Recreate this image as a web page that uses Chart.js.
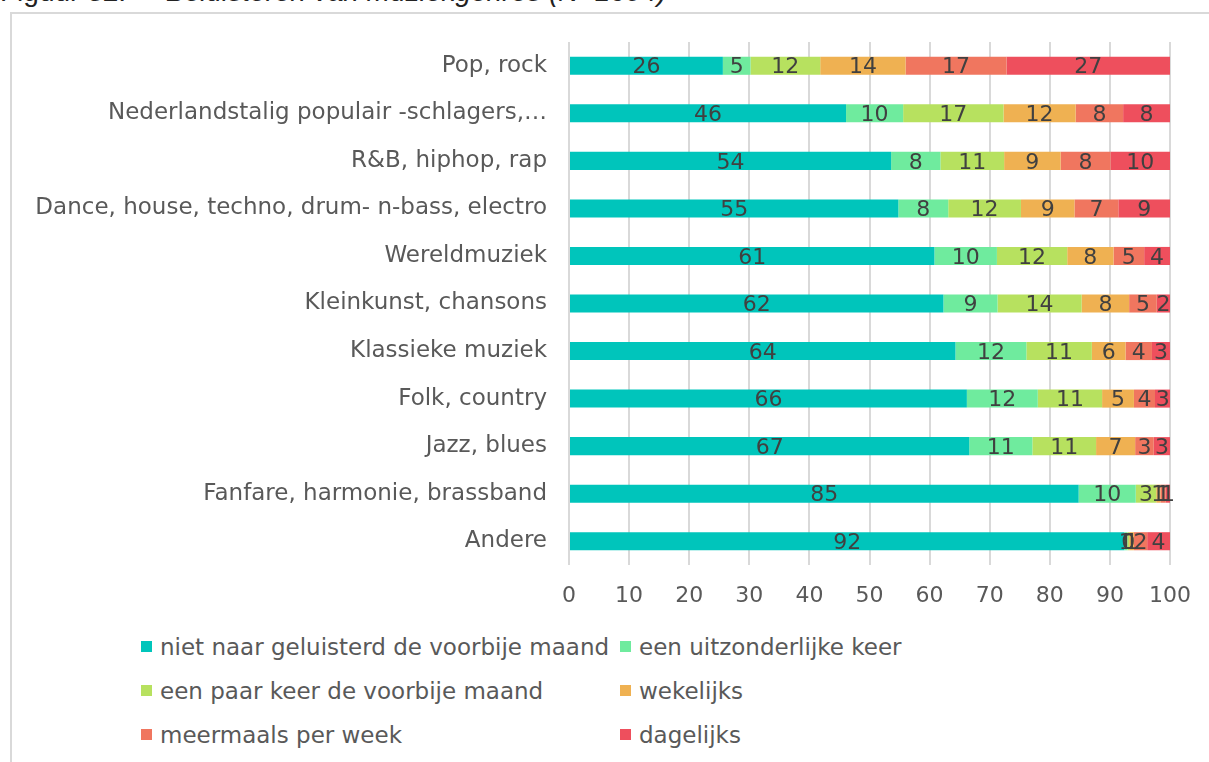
<!DOCTYPE html>
<html>
<head>
<meta charset="utf-8">
<script src="https://cdn.jsdelivr.net/npm/chart.js@4/dist/chart.umd.min.js"></script>
<style>
  body { margin:0; width:1209px; height:762px; overflow:hidden; background:#fff; font-family:"DejaVu Sans", sans-serif; }
  #title { position:absolute; left:0px; top:-24px; font-family:"Liberation Sans", Arial, sans-serif; font-size:28px; color:#222; white-space:nowrap; }
  #title i { margin-left:40px; }
  #frame { position:absolute; left:10px; top:12px; width:1220px; height:800px; border:2px solid #d9d9d9; box-sizing:border-box; }
  #wrap { position:absolute; left:0; top:0; width:1209px; height:620px; }
  #legend { position:absolute; left:141px; top:632px; display:grid; grid-template-columns:479px 400px; row-gap:15px; font-size:23px; color:#595959; }
  #legend div { display:flex; align-items:center; height:29px; white-space:nowrap; }
  #legend span { display:inline-block; width:11px; height:11px; margin-right:8px; }
</style>
</head>
<body>
<div id="title">Figuur 32:<i>Beluisteren van muziekgenres (N=1094)</i></div>
<div id="frame"></div>
<div id="wrap"><canvas id="chart"></canvas></div>
<div id="legend"></div>
<script>
// Categories (top to bottom)
const genres = [
  'Pop, rock',
  'Nederlandstalig populair -schlagers,…',
  'R&B, hiphop, rap',
  'Dance, house, techno, drum- n-bass, electro',
  'Wereldmuziek',
  'Kleinkunst, chansons',
  'Klassieke muziek',
  'Folk, country',
  'Jazz, blues',
  'Fanfare, harmonie, brassband',
  'Andere'
];

// Series (percent)
const nietGeluisterd = [25.6, 46.1, 53.6, 54.8, 60.8, 62.3, 64.3, 66.2, 66.6, 84.8, 92.4];
const uitzonderlijk  = [4.6, 9.5, 8.2, 8.3, 10.4, 9.0, 11.8, 11.8, 10.5, 9.5, 0.5];
const paarKeer       = [11.6, 16.7, 10.6, 12.1, 11.7, 14.0, 10.9, 10.7, 10.6, 3.4, 0.3];
const wekelijks      = [14.2, 12.0, 9.4, 8.9, 7.7, 7.9, 5.6, 5.3, 6.5, 0.7, 0.8];
const meermaals      = [16.8, 7.9, 8.3, 7.3, 5.1, 4.6, 4.4, 3.5, 3.1, 0.9, 2.2];
const dagelijks      = [27.2, 7.8, 9.9, 8.6, 4.3, 2.2, 3.0, 2.6, 2.7, 0.7, 3.8];

const xTicks = [0, 10, 20, 30, 40, 50, 60, 70, 80, 90, 100];

const seriesNames = [
  'niet naar geluisterd de voorbije maand',
  'een uitzonderlijke keer',
  'een paar keer de voorbije maand',
  'wekelijks',
  'meermaals per week',
  'dagelijks'
];
const seriesData = [nietGeluisterd, uitzonderlijk, paarKeer, wekelijks, meermaals, dagelijks];
const colors = ['#00c5bb', '#6feb9e', '#b7e15f', '#efb152', '#f0765f', '#ee4f5d'];

const font = "'DejaVu Sans', sans-serif";

// Labels in the middle of each segment
const segLabels = {
  id: 'segLabels',
  afterDatasetsDraw(chart){
    const ctx = chart.ctx;
    ctx.save();
    ctx.font = '22px ' + font;
    ctx.fillStyle = '#404040';
    ctx.textAlign = 'center';
    ctx.textBaseline = 'middle';
    chart.data.datasets.forEach((ds, i) => {
      chart.getDatasetMeta(i).data.forEach((bar, j) => {
        let cx = (bar.x + bar.base) / 2;
        ctx.fillText(Math.round(ds.data[j]), cx, bar.y + 2);
      });
    });
    ctx.restore();
  }
};

new Chart(document.getElementById('chart'), {
  type: 'bar',
  data: {
    labels: genres,
    datasets: seriesNames.map((n, i) => ({
      label: n,
      data: seriesData[i],
      backgroundColor: colors[i],
      borderWidth: 0,
      barPercentage: 0.38,
      categoryPercentage: 1
    }))
  },
  options: {
    indexAxis: 'y',
    responsive: true,
    maintainAspectRatio: false,
    animation: false,
    layout: { padding: { top: 42, right: 39, left: 0, bottom: 0 } },
    plugins: { legend: { display: false }, tooltip: { enabled: false } },
    scales: {
      x: {
        stacked: true,
        min: 0, max: 100,
        afterBuildTicks: s => { s.ticks = xTicks.map(v => ({ value: v })); },
        grid: { color: '#d9d9d9', lineWidth: 2, drawTicks: false },
        border: { display: false },
        ticks: { color: '#595959', font: { family: font, size: 22 }, padding: 18 },
        afterFit: s => { s.height = 55; }
      },
      y: {
        stacked: true,
        grid: { display: false, drawTicks: false },
        border: { display: false },
        ticks: { color: '#595959', font: { family: font, size: 23 }, padding: 22, autoSkip: false },
        afterFit: s => { s.width = 569; }
      }
    }
  },
  plugins: [segLabels]
});

// legend in two columns
const leg = document.getElementById('legend');
seriesNames.forEach((n, i) => {
  let d = document.createElement('div');
  d.innerHTML = `<span style="background:${colors[i]}"></span>${n}`;
  leg.appendChild(d);
});
</script>
</body>
</html>
